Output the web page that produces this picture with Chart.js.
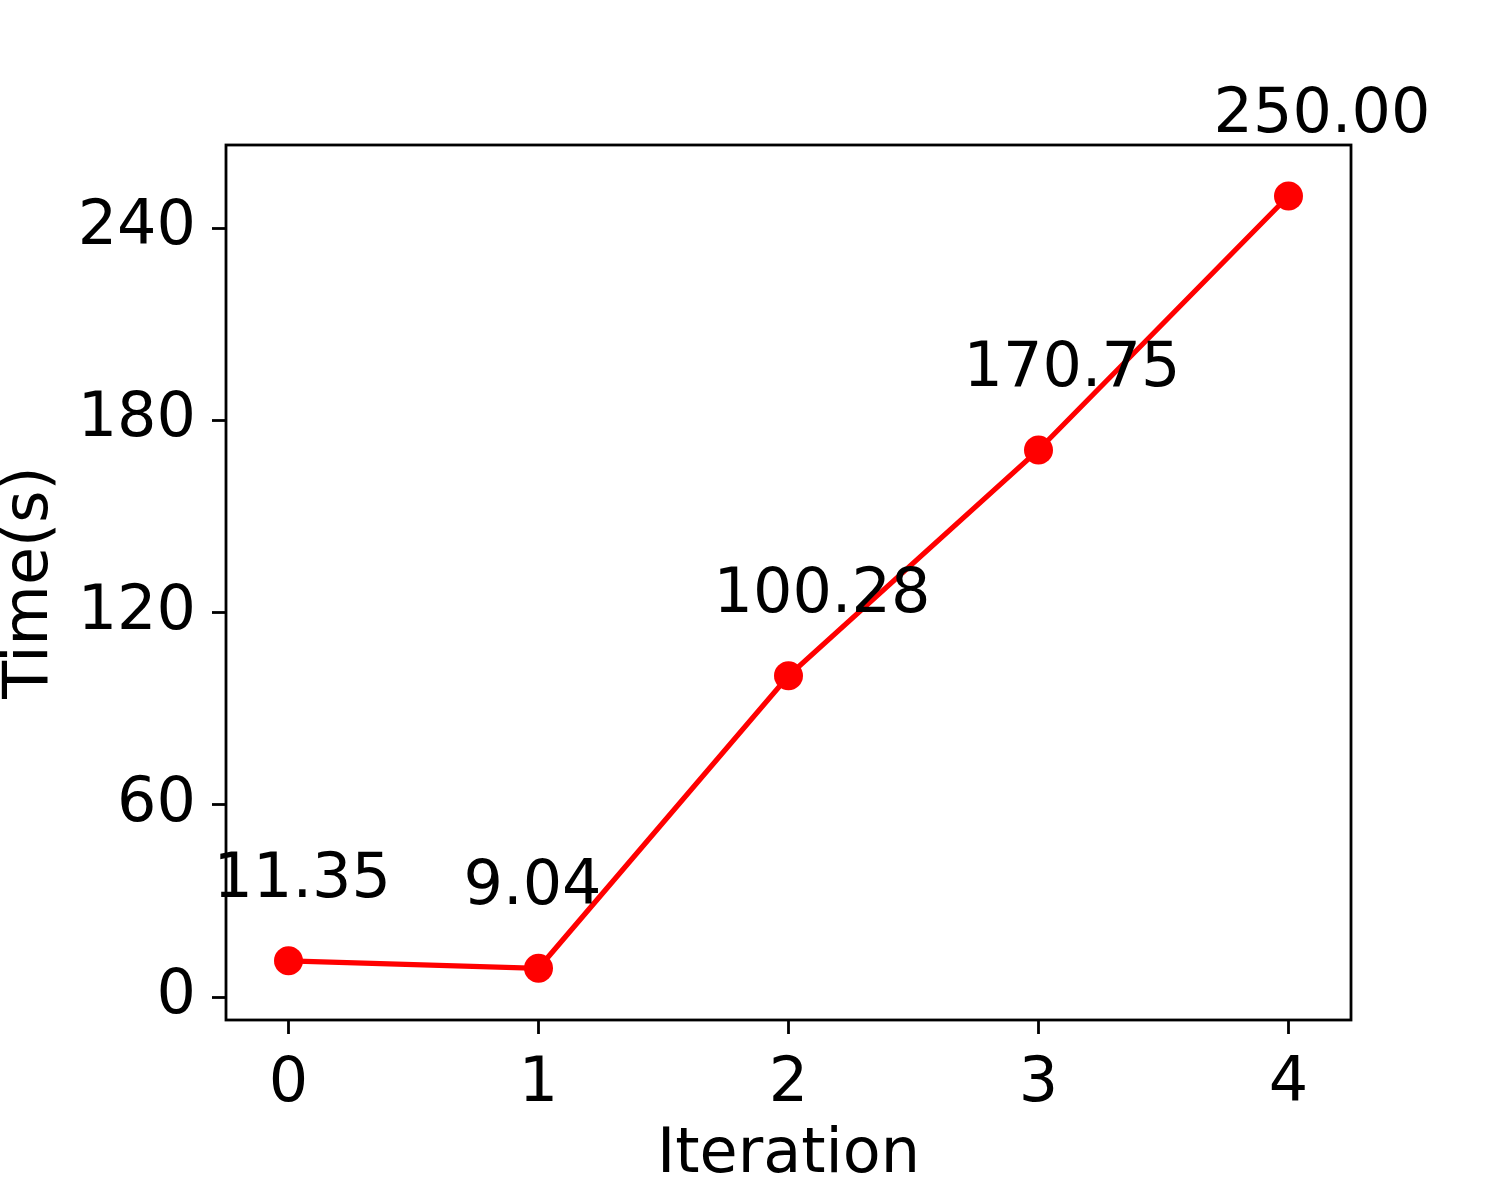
<!DOCTYPE html>
<html>
<head>
<meta charset="utf-8">
<script src="https://cdn.jsdelivr.net/npm/chart.js@4.4.1/dist/chart.umd.min.js"></script>
<style>
  html, body { margin: 0; padding: 0; background: #ffffff; }
  #wrap { width: 1500px; height: 1200px; }
</style>
</head>
<body>
<div id="wrap"><canvas id="grafico" width="1500" height="1200"></canvas></div>
<script>
// dados
const iteracoes = [0, 1, 2, 3, 4];
const tempos = [11.35, 9.04, 100.28, 170.75, 250.00];
const ticksX = [0, 1, 2, 3, 4];
const ticksY = [0, 60, 120, 180, 240];

const fonte = 'DejaVu Sans';
const tamFonte = 62;

// rotulos de valor acima de cada ponto
const rotulosPlugin = {
    id: 'rotulos',
    afterDatasetsDraw(chart) {
        const ctx = chart.ctx;
        const sx = chart.scales.x, sy = chart.scales.y;
        ctx.save();
        ctx.fillStyle = '#000000';
        ctx.font = `${tamFonte}px "${fonte}"`;
        ctx.textAlign = 'left';
        ctx.textBaseline = 'alphabetic';
        iteracoes.forEach((it, i) => {
            const px = sx.getPixelForValue(it - 0.3);
            const py = sy.getPixelForValue(tempos[i] + 20);
            ctx.fillText(tempos[i].toFixed(2), px, py);
        });
        ctx.restore();
    }
};

// moldura em volta da area do grafico
const molduraPlugin = {
    id: 'moldura',
    afterDraw(chart) {
        const a = chart.chartArea;
        const ctx = chart.ctx;
        ctx.save();
        ctx.strokeStyle = '#000000';
        ctx.lineWidth = 2.8;
        ctx.strokeRect(a.left, a.top, a.right - a.left, a.bottom - a.top);
        ctx.restore();
    }
};

const ctx = document.getElementById('grafico').getContext('2d');
const meuGrafico = new Chart(ctx, {
    type: 'line',
    data: {
        datasets: [{
            label: 'Time',
            data: iteracoes.map((it, i) => ({ x: it, y: tempos[i] })),
            borderColor: '#ff0000',
            backgroundColor: '#ff0000',
            borderWidth: 5.2,
            pointRadius: 14.5,
            pointHoverRadius: 14.5,
            pointBackgroundColor: '#ff0000',
            pointBorderWidth: 0,
            tension: 0,
            fill: false,
            clip: false
        }]
    },
    options: {
        responsive: false,
        animation: false,
        events: [],
        layout: { padding: { top: 145, right: 149, left: 0, bottom: 0 } },
        plugins: { legend: { display: false }, tooltip: { enabled: false } },
        scales: {
            x: {
                type: 'linear',
                min: -0.25,
                max: 4.25,
                afterBuildTicks: (s) => { s.ticks = ticksX.map(v => ({ value: v })); },
                afterFit: (s) => { s.height = 180; },
                grid: { drawOnChartArea: false, drawTicks: true, tickLength: 14, tickWidth: 2.8, tickColor: '#000000' },
                border: { display: false },
                ticks: { color: '#000000', padding: 14, maxRotation: 0, font: { family: fonte, size: tamFonte } },
                title: { display: true, text: 'Iteration', color: '#000000', padding: { top: 0, bottom: 13 }, font: { family: fonte, size: tamFonte, lineHeight: 1 } }
            },
            y: {
                type: 'linear',
                min: -7.1,
                max: 265.9,
                afterBuildTicks: (s) => { s.ticks = ticksY.map(v => ({ value: v })); },
                afterFit: (s) => { s.width = 226; },
                grid: { drawOnChartArea: false, drawTicks: true, tickLength: 14, tickWidth: 2.8, tickColor: '#000000' },
                border: { display: false },
                ticks: { color: '#000000', padding: 16, font: { family: fonte, size: tamFonte } },
                title: { display: true, text: 'Time(s)', color: '#000000', padding: { top: 0, bottom: 0 }, font: { family: fonte, size: tamFonte, lineHeight: 1 } }
            }
        }
    },
    plugins: [rotulosPlugin, molduraPlugin]
});
</script>
</body>
</html>
